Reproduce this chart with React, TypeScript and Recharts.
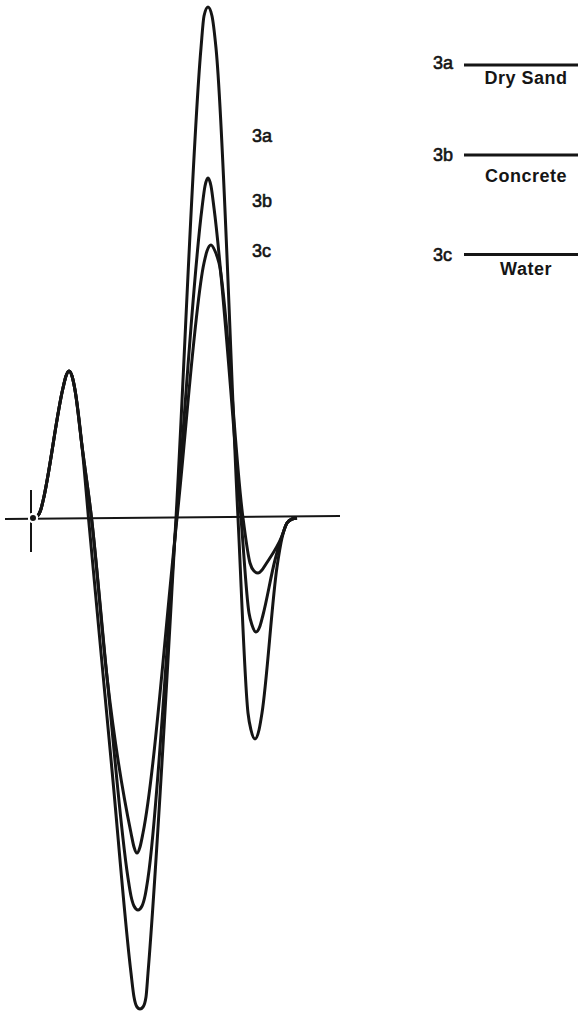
import React from "react";
import { LineChart, Line, XAxis, YAxis, ReferenceLine } from "recharts";

type P = { x: number; v: number };
const toPts = (a: number[][]): P[] => a.map(([x, v]) => ({ x, v }));

// Common first lobe shared by all three traces
const firstLobe: number[][] = [
  [33, 0], [36, 1], [39, 4], [41, 9], [43, 17], [63, 130], [66, 142], [69, 147],
  [72, 142], [75, 128], [82, 72],
];

// 3a - Dry Sand
const trace3a: number[][] = [
  [88.5, 0], [112, -252], [131, -455], [134, -479], [137, -489], [140, -491], [143, -489],
  [146, -479], [148, -455], [176, 0], [201, 470], [204, 502], [208, 511], [212, 502],
  [216, 470], [238, 0], [248, -195], [251, -212], [255, -221], [259, -212], [262, -195],
  [277, -49], [282, -20], [287, -5], [292, -1], [297, 0],
];

// early descent shared by 3b and 3c
const descent3b: number[][] = [[91.5, 0], [107, -159]];

// 3b - Concrete
const trace3b: number[][] = [
  [128, -360], [131, -378], [134, -388], [138, -392], [142, -388], [145, -378], [148, -360],
  [176.5, 0], [202, 310], [205, 332], [208, 340], [211, 332], [214, 310], [241, 0],
  [249, -95], [252, -107], [256, -114], [260, -108], [263, -97], [275, -42], [282, -18],
  [287, -5], [292, -1], [297, 0],
];

// 3c - Water
const trace3c: number[][] = [
  [131, -315], [134, -329], [137, -335], [140, -329], [143, -315], [177, 0], [204, 255],
  [207, 267], [211, 273], [215, 267], [219, 255], [243, 0], [250, -45], [254, -53],
  [258, -55], [262, -52], [266, -46], [282, -18], [287, -5], [292, -1], [297, 0],
];

const data3a = toPts([...firstLobe, ...trace3a]);
const data3b = toPts([...firstLobe, ...descent3b, ...trace3b]);
const data3c = toPts([...firstLobe, ...descent3b, ...trace3c]);

const traceLabels = ["3a", "3b", "3c"];
const materials = ["Dry Sand", "Concrete", "Water"];

const W = 578;
const H = 1015;
const INK = "#151515";
const FONT = "Liberation Sans, Arial, sans-serif";

export default function App() {
  const labelY = [142, 207, 257];
  const legendY = [65, 155, 254.5];
  const legendKeyY = [69, 161, 261];
  const legendTextY = [84, 182, 275];
  return (
    <div style={{ position: "absolute", left: 0, top: 0, width: W, height: H, background: "#fff" }}>
      <LineChart width={W} height={H} margin={{ top: 0, right: 0, bottom: 0, left: 0 }}>
        <XAxis type="number" dataKey="x" domain={[0, W]} hide allowDataOverflow />
        <YAxis type="number" dataKey="v" domain={[-497, 518]} hide allowDataOverflow />
        <ReferenceLine
          segment={[{ x: 5, y: -1 }, { x: 340, y: 2 }]}
          stroke={INK}
          strokeWidth={1.8}
        />
        <ReferenceLine
          segment={[{ x: 31, y: 28 }, { x: 31, y: -34 }]}
          stroke={INK}
          strokeWidth={2}
        />
        <Line data={data3a} dataKey="v" type="monotone" stroke={INK} strokeWidth={3} dot={false} isAnimationActive={false} />
        <Line data={data3b} dataKey="v" type="monotone" stroke={INK} strokeWidth={3} dot={false} isAnimationActive={false} />
        <Line data={data3c} dataKey="v" type="monotone" stroke={INK} strokeWidth={3} dot={false} isAnimationActive={false} />
      </LineChart>
      <svg
        width={W}
        height={H}
        style={{ position: "absolute", left: 0, top: 0, pointerEvents: "none" }}
      >
        {traceLabels.map((t, i) => (
          <text key={t} x={252} y={labelY[i]} fontFamily={FONT} fontSize={18} fill={INK} stroke={INK} strokeWidth={0.6}>
            {t}
          </text>
        ))}
        {traceLabels.map((t, i) => (
          <g key={"lg" + t}>
            <text x={433} y={legendKeyY[i]} fontFamily={FONT} fontSize={18} fill={INK} stroke={INK} strokeWidth={0.6}>
              {t}
            </text>
            <line x1={464} x2={W} y1={legendY[i]} y2={legendY[i]} stroke={INK} strokeWidth={3} />
            <text
              x={526}
              y={legendTextY[i]}
              textAnchor="middle"
              fontFamily={FONT}
              fontWeight="bold"
              fontSize={18}
              letterSpacing={0.5}
              fill={INK}
            >
              {materials[i]}
            </text>
          </g>
        ))}
      </svg>
    </div>
  );
}
